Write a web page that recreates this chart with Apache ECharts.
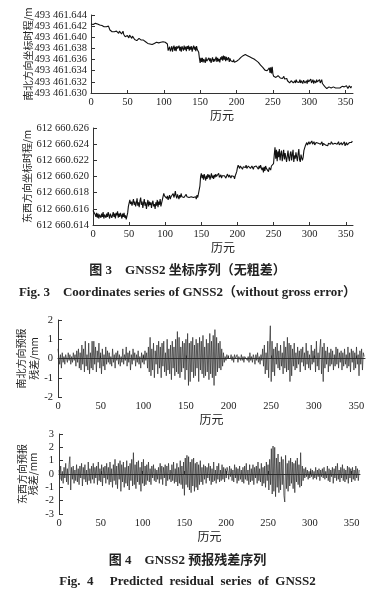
<!DOCTYPE html>
<html>
<head>
<meta charset="utf-8">
<script src="https://cdn.jsdelivr.net/npm/echarts@6/dist/echarts.min.js"></script>
<style>
  html, body { margin: 0; padding: 0; background: #fff; }
  #chart { width: 375px; height: 596px; }
</style>
</head>
<body>
<div id="chart"></div>
<script>
// coordinate series, mm above the lowest tick (493 461.630 / 612 660.614)
const nsTickLabels = ['493 461.630', '493 461.632', '493 461.634', '493 461.636', '493 461.638', '493 461.640', '493 461.642', '493 461.644'];
const ewTickLabels = ['612 660.614', '612 660.616', '612 660.618', '612 660.620', '612 660.622', '612 660.624', '612 660.626'];

const nsCoord = [
  12.4,12.6,12.5,12.3,12.6,12.4,12.5,12.7,12.5,12.4,12.3,12.1,12.2,12.0,11.9,12.1,12.0,11.8,11.9,12.0,
  11.8,11.9,11.7,11.8,12.0,11.7,11.3,11.0,11.2,11.0,11.1,10.9,11.0,11.2,10.8,11.1,10.9,11.0,10.7,11.1,
  10.9,11.0,10.6,10.8,11.1,10.5,10.3,10.1,10.4,10.0,10.3,10.2,9.9,10.4,10.1,10.3,9.8,10.2,10.0,10.3,
  9.6,9.5,9.7,9.4,9.6,9.5,9.8,9.6,9.7,9.5,9.4,9.6,9.5,9.3,9.4,9.2,9.3,9.1,8.9,8.8,
  8.6,8.8,8.7,8.9,8.7,8.8,9.0,8.9,9.1,9.0,9.1,9.0,9.1,9.0,9.1,9.2,9.1,9.0,9.1,9.2,
  9.1,9.0,9.1,9.0,8.9,8.8,7.6,7.3,8.3,7.5,7.9,8.4,7.4,8.1,8.5,7.6,8.3,7.5,8.4,8.0,
  7.7,8.5,7.6,8.3,7.4,8.4,8.0,7.6,8.5,7.8,8.3,7.5,8.4,7.9,8.5,7.6,8.3,7.8,8.4,7.4,
  8.1,8.5,7.8,8.3,7.5,8.4,7.8,8.1,7.3,6.2,5.4,6.3,5.6,6.3,5.5,6.1,6.2,5.4,6.4,5.7,
  6.0,5.5,6.3,5.7,6.2,5.4,6.0,6.4,5.6,6.1,5.7,5.9,6.5,5.6,6.3,5.7,6.1,5.5,6.4,6.0,
  6.6,5.8,6.7,6.0,6.6,5.7,6.5,5.9,5.8,6.4,5.6,6.2,5.8,6.1,5.7,5.6,6.0,5.5,5.4,5.6,
  5.7,5.8,5.9,6.0,6.2,6.3,6.4,6.5,6.6,6.7,6.8,6.8,6.9,6.8,6.8,6.7,6.7,6.6,6.5,6.5,
  6.4,6.3,6.3,6.2,6.1,6.0,5.9,5.8,5.7,5.6,5.5,5.3,5.2,5.0,4.9,4.7,4.6,4.4,4.3,4.1,
  4.2,3.9,4.0,4.3,3.8,4.5,3.6,4.6,3.5,4.7,3.4,3.0,2.9,3.1,2.8,3.0,2.9,3.1,2.8,3.0,
  2.7,2.9,3.0,2.6,2.8,3.0,2.5,2.7,2.4,2.6,2.2,1.9,2.1,1.8,2.0,2.2,1.9,2.1,1.8,2.0,
  2.2,1.8,2.4,2.0,1.7,2.3,1.9,2.4,1.8,2.2,2.0,1.7,2.3,2.4,1.8,2.0,2.2,1.7,2.4,2.0,
  1.8,2.2,2.5,1.8,2.1,2.4,1.7,2.2,2.5,1.8,2.4,2.0,1.8,2.3,2.4,1.8,2.1,2.4,1.7,2.0,
  1.6,1.2,0.9,1.0,0.8,1.0,0.9,1.1,0.8,1.0,0.9,1.0,0.8,1.1,0.9,1.0,0.9,1.1,1.0,0.9,
  1.0,1.2,0.9,1.1,1.0,1.2,1.3,0.9,1.1,1.4,1.0,1.3,1.2,0.8,1.0,1.3,1.1,0.9,1.2,1.0
];

const ewCoord = [
  1.8,1.6,1.7,1.3,1.0,1.5,0.9,1.4,0.8,1.3,1.5,0.9,1.4,1.0,1.6,0.8,1.3,1.5,0.9,1.4,
  1.0,1.6,1.2,0.8,1.4,1.5,0.9,1.2,1.6,1.0,1.4,0.8,1.5,1.2,1.7,0.9,1.4,1.0,1.5,1.2,
  0.8,1.4,1.0,1.5,0.9,1.2,0.7,1.1,1.5,2.3,2.7,3.1,2.6,2.9,2.4,2.8,3.2,2.5,2.9,2.3,
  2.7,3.3,2.4,2.8,2.2,3.0,3.4,2.5,2.9,2.1,2.7,3.2,2.4,2.8,2.0,2.6,3.1,2.3,2.9,2.5,
  2.8,2.1,2.7,3.0,2.3,2.6,2.0,2.8,2.4,3.1,2.2,2.9,2.5,3.2,2.3,2.7,2.9,3.5,3.9,3.6,
  3.4,3.8,3.3,3.6,3.1,3.4,3.7,3.2,3.5,3.3,3.6,3.9,3.4,3.7,4.2,3.6,3.3,3.8,3.5,3.2,
  3.7,3.4,3.9,3.5,3.3,3.7,3.4,3.6,3.2,3.8,3.5,3.3,3.7,3.4,3.6,3.2,3.5,3.3,3.7,3.4,
  3.6,3.3,3.5,3.2,3.7,3.4,3.3,3.6,4.8,6.0,6.4,5.8,6.2,5.6,6.3,5.9,5.5,6.1,5.7,6.3,
  5.9,6.2,5.6,6.0,6.4,5.8,6.1,5.7,6.2,5.9,6.3,6.0,5.8,6.1,6.4,5.9,6.0,6.2,5.8,6.1,
  6.3,5.9,6.1,6.2,5.8,6.0,6.3,6.1,5.9,6.2,6.0,5.8,6.1,6.3,5.9,6.0,5.7,6.1,5.9,6.6,
  7.1,7.4,7.2,7.0,7.3,7.1,7.4,6.9,7.2,7.0,7.3,7.1,7.4,7.0,7.2,7.3,7.1,7.4,7.0,7.2,
  7.3,7.1,6.9,7.2,7.4,7.0,7.3,7.1,7.2,6.9,7.3,7.0,7.4,7.2,6.8,7.1,6.5,7.2,6.7,7.3,
  7.0,6.8,7.2,6.6,7.1,7.0,6.8,7.3,7.1,7.4,7.6,8.7,9.6,8.2,9.3,7.9,9.1,8.4,9.4,8.0,
  8.8,9.2,7.9,8.6,9.3,8.1,8.9,9.0,7.8,8.5,9.2,8.3,7.9,8.8,9.1,8.0,8.7,9.3,7.8,8.6,
  8.2,9.0,8.4,7.9,8.8,9.4,8.1,7.8,8.7,8.3,8.0,8.4,9.2,9.5,9.8,10.0,10.2,9.9,10.1,10.3,
  10.0,10.2,10.1,10.4,10.0,10.2,10.3,9.9,10.1,10.2,10.0,10.3,10.1,9.9,10.2,10.0,10.1,10.3,9.8,10.1,
  10.0,10.2,9.9,10.1,10.0,9.8,10.1,10.2,9.9,10.0,10.3,10.1,10.0,9.8,10.2,10.1,9.9,10.2,10.0,10.1,
  10.3,9.9,10.1,10.0,10.2,9.9,10.1,10.0,10.3,9.8,10.0,10.2,9.9,10.1,10.0,10.2,10.1,10.3,10.2,10.4
];

// predicted residuals, mm
const nsResid = [
  0.5,0.1,-0.3,0.2,-0.5,0.3,-0.2,0.1,-0.3,0.2,0.0,-0.2,0.3,-0.1,0.2,-0.3,0.1,-0.2,0.3,-0.1,
  0.2,-0.4,0.4,-0.2,0.5,-0.5,0.3,-0.6,0.7,-0.3,0.5,-0.7,0.9,-0.4,0.2,-0.6,0.8,-0.8,0.3,-0.5,
  0.9,-0.6,0.9,-0.3,0.6,-0.7,0.4,-0.2,0.8,-0.5,0.3,-0.8,0.5,-0.4,0.2,-0.6,0.6,-0.3,0.4,-0.2,
  0.3,-0.3,0.1,-0.4,0.5,-0.2,0.2,-0.5,0.3,-0.1,0.4,-0.3,0.2,-0.4,0.1,-0.2,0.5,-0.3,0.2,-0.1,
  0.6,-0.4,0.3,-0.2,0.4,-0.6,0.2,-0.3,0.5,-0.1,0.3,-0.4,0.2,-0.2,0.4,-0.3,0.1,-0.5,0.3,-0.2,
  0.2,-0.3,0.4,-0.1,0.3,-0.5,0.6,-0.7,1.1,-0.9,0.5,-0.6,0.8,-1.0,0.4,-0.3,0.7,-0.8,0.9,-0.5,
  0.6,-1.0,0.8,-0.4,0.9,-0.7,0.3,-0.9,1.0,-0.6,0.5,-0.8,0.7,-1.1,0.9,-0.5,0.6,-0.9,1.0,-0.7,
  1.4,-0.8,1.1,-1.0,0.6,-0.7,0.9,-0.5,0.8,-1.1,1.0,-0.6,1.3,-1.4,0.8,-1.2,0.9,-0.7,1.1,-1.0,
  0.7,-0.9,1.0,-0.5,0.8,-1.2,1.1,-0.6,0.9,-0.8,1.2,-1.0,0.6,-0.9,1.0,-0.7,0.8,-1.1,1.3,-0.8,
  0.9,-1.0,1.2,-1.4,1.5,-0.9,1.1,-0.7,0.8,-0.5,0.9,-0.6,0.5,-0.4,0.3,-0.2,0.1,-0.1,0.2,0.0,
  -0.1,0.1,0.0,0.2,-0.1,0.1,-0.2,0.2,0.0,-0.1,0.2,-0.2,0.1,0.0,-0.1,0.2,-0.1,0.1,-0.2,0.1,
  0.0,0.2,-0.1,0.1,-0.2,0.3,-0.1,0.1,-0.2,0.2,0.0,-0.3,0.2,-0.1,0.3,-0.2,0.1,-0.3,0.2,-0.1,
  0.5,-0.4,0.7,-0.8,0.3,-0.6,0.9,-1.0,0.6,1.7,-1.2,0.9,-0.7,0.5,-0.9,0.6,-0.3,0.8,-0.5,0.4,
  -0.6,0.7,-0.4,0.3,-0.8,0.9,-0.5,0.6,-0.7,1.1,-0.6,0.8,-1.2,0.7,-0.9,0.5,-0.4,0.8,-0.6,0.3,
  -0.5,0.6,-0.3,0.4,-0.7,0.5,-0.2,0.6,-0.4,0.3,-0.6,0.8,-0.3,0.4,-0.5,0.2,-0.6,0.7,-0.3,0.4,
  -0.2,0.5,-0.7,0.9,-0.4,0.3,-0.6,0.5,1.0,-0.8,0.6,-1.2,0.8,-0.5,0.4,-0.3,0.6,-0.7,0.3,-0.4,
  0.5,-0.3,0.4,-0.6,0.2,-0.4,0.6,-0.3,0.5,-0.5,0.3,-0.2,0.4,-0.6,0.3,-0.4,0.5,-0.3,0.2,-0.5,
  0.6,-0.4,0.3,-0.7,0.5,-0.2,0.4,-0.6,0.3,-0.5,0.6,-0.3,0.2,-0.9,0.4,-0.3,0.5,-0.6,0.3,0.1
];

const ewResid = [
  0.3,-0.4,0.6,-0.5,0.2,-0.7,0.5,-0.3,0.8,-0.6,0.4,-0.8,0.7,1.3,-1.2,0.5,-0.4,0.6,-0.7,0.3,
  -0.5,0.7,-0.6,0.4,-0.8,0.6,-0.3,0.8,-0.9,0.5,-0.4,0.7,-0.6,0.3,-0.8,0.9,-0.5,0.4,-0.7,0.6,
  -0.4,0.8,-0.7,0.5,-0.3,0.6,-0.8,0.9,-0.5,0.4,-0.6,0.7,-0.9,0.5,-0.3,0.6,-0.7,0.8,-0.4,0.5,
  -0.8,0.9,-0.6,0.4,-1.0,0.7,-0.5,1.1,-0.8,0.6,-1.1,0.8,-0.4,1.0,-1.3,0.7,-0.6,0.9,-1.0,0.5,
  -0.7,1.0,-0.9,0.6,-1.2,0.8,-0.5,1.1,-0.9,1.6,-0.8,0.7,-1.1,0.9,-0.6,1.0,-0.8,0.5,-1.3,0.9,
  -0.7,1.1,-0.9,0.6,-0.8,0.7,-0.5,0.9,-0.6,0.4,-0.8,0.6,-0.3,0.7,-0.5,0.4,-0.6,0.3,-0.4,0.5,
  -0.7,0.8,-0.4,0.6,-0.8,0.5,-0.3,0.7,-0.9,0.6,-0.5,0.8,-0.4,0.3,-0.6,0.7,-0.5,0.9,-0.7,0.4,
  -0.6,0.8,-0.9,0.5,-0.7,1.0,-0.8,0.6,-1.1,0.9,-1.6,1.2,-0.8,1.4,-1.0,1.3,-1.2,0.9,-1.4,1.1,
  -0.9,1.2,-1.3,0.8,-1.0,0.9,-1.2,0.7,-0.8,1.0,-0.6,0.5,-0.8,0.7,-0.4,0.6,-0.7,0.5,-0.3,0.8,
  -0.5,0.6,-0.8,0.4,-0.6,0.9,-0.5,0.3,-0.7,0.6,-0.4,0.8,-0.6,0.3,-0.5,0.7,-0.4,0.5,-0.6,0.4,
  -0.3,0.5,0.2,-0.4,0.6,-0.2,0.4,-0.5,0.3,-0.6,0.7,-0.3,0.5,-0.7,0.4,-0.5,0.6,-0.4,0.3,-0.6,
  0.5,-0.7,0.6,-0.4,0.8,-0.5,0.3,-0.8,0.7,-0.6,0.4,-0.5,0.7,-0.8,0.5,-0.3,0.6,-0.7,0.9,-0.5,
  0.4,-0.6,0.8,-0.9,0.5,-0.7,0.6,-1.0,0.9,-0.5,0.7,-1.2,1.1,-0.8,1.9,-1.5,2.1,-1.3,2.0,-1.7,
  1.2,-1.0,1.5,-1.4,0.9,-1.2,1.3,-0.8,1.1,-1.6,-2.1,1.4,-1.1,0.8,-1.3,1.0,-0.9,1.2,-0.7,0.9,
  -1.1,0.8,-1.4,1.0,-0.6,1.2,-0.8,0.7,-1.0,1.6,-0.9,0.6,-0.5,0.4,-0.3,0.5,-0.2,0.3,-0.4,0.2,
  -0.3,0.4,-0.2,0.3,-0.4,0.2,-0.3,0.5,-0.4,0.3,-0.2,0.4,-0.5,0.3,-0.2,0.4,-0.3,0.5,-0.4,0.2,
  -0.3,0.6,-0.5,0.4,-0.6,0.3,-0.2,0.5,-0.7,0.4,-0.3,0.6,-0.5,0.8,-0.4,0.3,-0.6,0.5,-0.3,0.7,
  -0.5,0.4,-0.6,0.3,-0.4,0.6,-0.7,0.5,-0.3,0.4,-0.6,0.5,-0.4,0.3,-0.5,0.6,-0.3,0.4,-0.5,0.3
];

const captions = [
  { zh: '图 3　GNSS2 坐标序列（无粗差）', en: 'Fig. 3　Coordinates series of GNSS2（without gross error）', yZh: 272, yEn: 294 },
  { zh: '图 4　GNSS2 预报残差序列', en: 'Fig.  4　 Predicted  residual  series  of  GNSS2', yZh: 562, yEn: 583 }
];

const serif = '"Liberation Serif", "Noto Sans CJK SC", serif';
const ink = '#222';

const chart = echarts.init(document.getElementById('chart'));

const grids = [
  { left: 91, right: 22, top: 15, height: 78 },
  { left: 93, right: 22, top: 128, height: 97 },
  { left: 58, right: 10, top: 320, height: 77 },
  { left: 59, right: 15, top: 434, height: 80 }
];

function xAxis(i) {
  return {
    gridIndex: i, type: 'value', min: 0, max: 360, interval: 50,
    name: '历元', nameLocation: 'middle', nameGap: 16,
    nameTextStyle: { fontFamily: '"Noto Sans CJK SC"', fontSize: 12, color: ink },
    axisLine: { lineStyle: { color: '#333', width: 1 } },
    axisTick: { inside: true, length: 3, lineStyle: { color: '#333' } },
    axisLabel: { showMaxLabel: false, fontFamily: serif, fontSize: 10.5, color: ink, margin: 4 },
    splitLine: { show: false }
  };
}

function yAxis(i, o) {
  return Object.assign({
    gridIndex: i, type: 'value', nameLocation: 'middle', nameMoveOverlap: false,
    nameTextStyle: { fontFamily: '"Noto Sans CJK SC"', fontSize: 10, color: ink },
    axisLine: { show: true, lineStyle: { color: '#333', width: 1 } },
    axisTick: { show: true, inside: true, length: 4, lineStyle: { color: '#333' } },
    axisLabel: { fontFamily: serif, fontSize: 10.5, color: ink, margin: 5 },
    splitLine: { show: false }
  }, o);
}

function line(i, values, w, c) {
  return {
    type: 'line', xAxisIndex: i, yAxisIndex: i, symbol: 'none', animation: false,
    lineStyle: { color: c, width: w },
    data: values.map((v, k) => [k, v])
  };
}

chart.setOption({
  backgroundColor: '#fff',
  grid: grids,
  xAxis: [0, 1, 2, 3].map(xAxis),
  yAxis: [
    yAxis(0, { min: 0, max: 14, interval: 2, name: '南北方向坐标时程/m', nameGap: 58,
      axisLabel: { fontFamily: serif, fontSize: 10.5, color: ink, margin: 4, formatter: (v) => nsTickLabels[Math.round(v / 2)] } }),
    yAxis(1, { min: 0, max: 12, interval: 2, name: '东西方向坐标时程/m', nameGap: 61,
      axisLabel: { fontFamily: serif, fontSize: 10.5, color: ink, margin: 4, formatter: (v) => ewTickLabels[Math.round(v / 2)] } }),
    yAxis(2, { min: -2, max: 2, interval: 1, name: '南北方向预报\n残差/mm', nameGap: 17,
      nameTextStyle: { fontFamily: '"Noto Sans CJK SC"', fontSize: 10, lineHeight: 13, color: ink } }),
    yAxis(3, { min: -3, max: 3, interval: 1, name: '东西方向预报\n残差/mm', nameGap: 20,
      nameTextStyle: { fontFamily: '"Noto Sans CJK SC"', fontSize: 10, lineHeight: 11, color: ink } })
  ],
  series: [
    line(0, nsCoord, 1.1, '#111'),
    line(1, ewCoord, 1.1, '#111'),
    line(2, nsResid, 0.7, '#2a2a2a'),
    line(3, ewResid, 0.7, '#2a2a2a')
  ],
  graphic: captions.flatMap((c) => [
    { type: 'text', left: 'center', top: c.yZh - 8,
      style: { text: c.zh, font: 'bold 13px "Liberation Serif", "Noto Sans CJK SC"', fill: ink } },
    { type: 'text', left: 'center', top: c.yEn - 8,
      style: { text: c.en, font: 'bold 13px "Liberation Serif", "Noto Sans CJK SC"', fill: ink } }
  ])
});
</script>
</body>
</html>
